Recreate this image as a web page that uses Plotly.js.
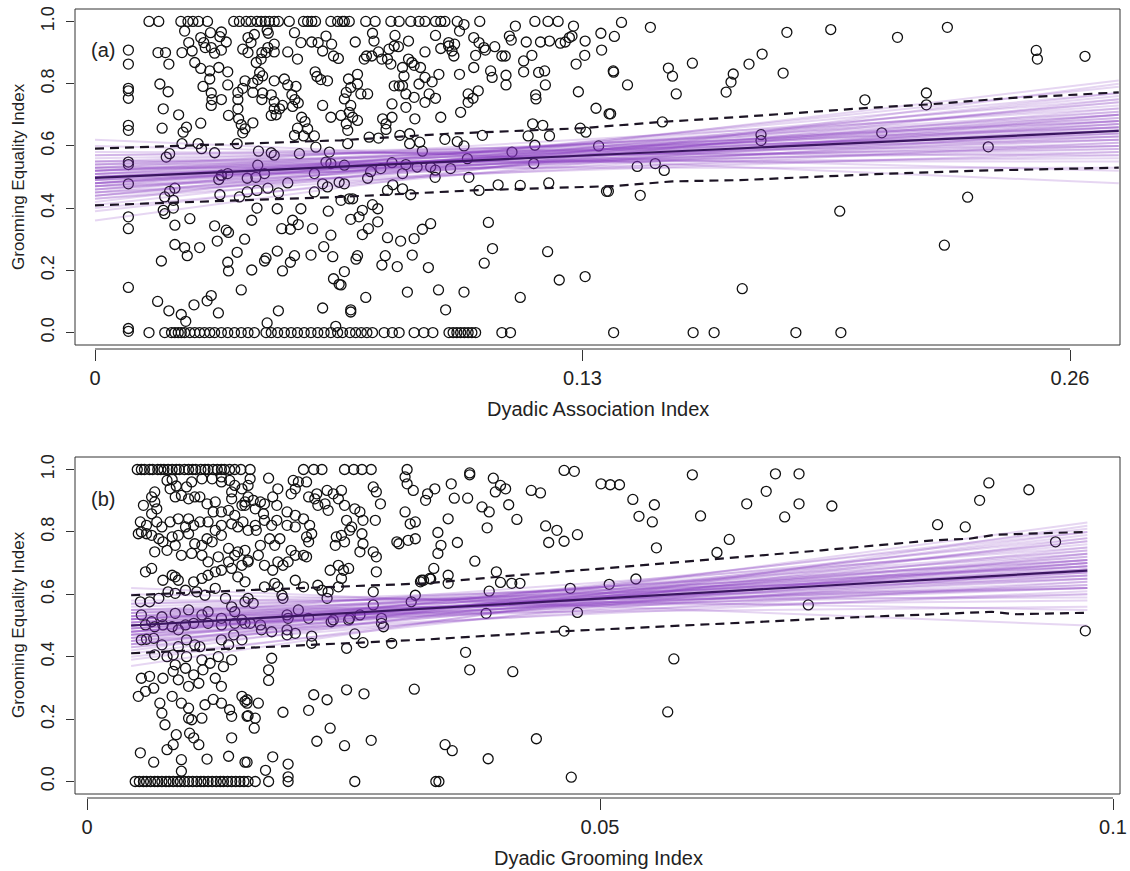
<!DOCTYPE html>
<html><head><meta charset="utf-8">
<script src="https://cdn.plot.ly/plotly-3.0.1.min.js"></script>
<style>body{margin:0;background:#fff}#chart{width:1130px;height:871px}</style>
</head><body><div id="chart"></div>
<script>
// ---------- Panel (a): Dyadic Association Index vs Grooming Equality Index ----------
const assocPoints = [
[0.0144,1],[0.0170,1],[0.0229,1],[0.0248,1],[0.0261,1],[0.0276,1],[0.0300,1],[0.0370,1],[0.0385,1],[0.0403,1],[0.0416,1],[0.0432,1],[0.0443,1],[0.0454,1],[0.0465,1],[0.0478,1],[0.0489,1],[0.0518,1],[0.0556,1],[0.0567,1],[0.0578,1],[0.0588,1],[0.0629,1],[0.0647,1],[0.0660,1],[0.0665,1],[0.0678,1],[0.0722,1],[0.0747,1],[0.0789,1],[0.0811,1],[0.0842,1],[0.0864,1],[0.0880,1],[0.0908,1],[0.0922,1],[0.0933,1],[0.0966,1],[0.1026,1],[0.1173,1],[0.1208,1],[0.1235,1],[0.0984,0.99],[0.1121,0.985],[0.1276,0.985],[0.1404,0.997],
[0.0089,0.908],[0.0089,0.863],[0.0089,0.785],[0.0089,0.777],[0.0089,0.753],[0.0089,0.666],[0.0089,0.65],[0.0089,0.548],[0.0089,0.54],[0.0089,0.478],[0.0089,0.372],[0.0089,0.334],[0.0089,0.145],[0.0089,0.013],[0.0089,0.004],
[0.0168,0.90],[0.0188,0.90],[0.0197,0.863],[0.0173,0.799],[0.0195,0.774],[0.0182,0.719],[0.0223,0.70],[0.0179,0.657],[0.0235,0.644],[0.0244,0.66],[0.0282,0.673],
[0.0239,0.969],[0.0250,0.932],[0.0259,0.905],[0.0232,0.90],[0.0282,0.948],[0.0290,0.932],[0.0294,0.916],[0.0308,0.964],[0.0337,0.966],[0.0333,0.951],[0.0350,0.934],[0.0266,0.868],[0.0282,0.849],[0.0310,0.916],[0.0319,0.898],[0.0337,0.908],[0.0306,0.841],[0.0306,0.815],[0.0330,0.852],[0.0354,0.838],[0.0288,0.791],[0.0310,0.770],[0.0312,0.749],[0.0310,0.730],[0.0337,0.749],[0.0354,0.796],[0.0356,0.698],[0.0381,0.719],[0.0383,0.687],[0.0390,0.668],[0.0394,0.642],[0.0400,0.655],[0.0421,0.674],[0.0381,0.772],[0.0381,0.749],[0.0400,0.809],[0.0394,0.785],[0.0408,0.900],[0.0394,0.911],[0.0416,0.932],[0.0408,0.948],[0.0425,0.958],[0.0430,0.868],[0.0443,0.879],[0.0445,0.900],[0.0456,0.900],[0.0461,0.916],[0.0459,0.972],[0.0462,0.962],[0.0478,0.927],[0.0478,0.902],[0.0439,0.836],[0.0434,0.813],[0.0447,0.825],[0.0421,0.802],[0.0421,0.772],[0.0447,0.770],[0.0445,0.749],[0.0470,0.764],[0.0478,0.742],[0.0478,0.719],[0.0470,0.698],[0.0483,0.700],[0.0492,0.719],[0.0500,0.730],[0.0478,0.809],[0.0505,0.815],[0.0514,0.796],[0.0536,0.791],[0.0525,0.764],[0.0533,0.749],[0.0542,0.738],[0.0527,0.727],[0.0551,0.692],[0.0560,0.678],[0.0567,0.655],[0.0540,0.657],[0.0556,0.632],[0.0585,0.632],[0.0514,0.902],[0.0540,0.879],[0.0532,0.964],[0.0549,0.932],[0.0578,0.934],[0.0595,0.932],[0.0607,0.905],[0.0616,0.953],[0.0631,0.927],[0.0636,0.889],[0.0649,0.881],[0.0620,0.809],[0.0587,0.838],[0.0592,0.823],[0.0602,0.813],[0.0607,0.730],[0.0629,0.692],[0.0656,0.698],
[0.0275,0.607],[0.0284,0.591],[0.0199,0.575],[0.0190,0.564],[0.0232,0.607],[0.0319,0.578],[0.0379,0.607],[0.0436,0.583],[0.0470,0.578],[0.0478,0.570],[0.0434,0.538],[0.0545,0.575],[0.0532,0.634],[0.0589,0.596],[0.0625,0.580],[0.0616,0.548],[0.0629,0.543],[0.0452,0.511],[0.0337,0.506],[0.0354,0.511],[0.0585,0.511],
[0.0186,0.436],[0.0199,0.454],[0.0213,0.464],[0.0209,0.425],[0.0182,0.393],[0.0186,0.382],[0.0209,0.400],[0.0213,0.345],[0.0253,0.366],[0.0213,0.283],[0.0239,0.273],[0.0246,0.247],[0.0279,0.273],[0.0177,0.230],[0.0167,0.100],[0.0197,0.070],[0.0230,0.058],[0.0242,0.036],[0.0264,0.089],[0.0299,0.102],[0.0310,0.119],[0.0329,0.063],[0.0319,0.343],[0.0326,0.294],[0.0350,0.329],[0.0356,0.322],[0.0330,0.492],[0.0337,0.505],[0.0333,0.443],[0.0354,0.226],[0.0356,0.198],[0.0379,0.258],[0.0399,0.300],[0.0390,0.137],[0.0418,0.201],[0.0418,0.361],[0.0432,0.400],[0.0385,0.436],[0.0406,0.452],[0.0432,0.457],[0.0461,0.464],[0.0406,0.496],[0.0429,0.499],[0.0452,0.230],[0.0456,0.239],[0.0486,0.398],[0.0486,0.262],[0.0498,0.334],[0.0521,0.332],[0.0527,0.361],[0.0542,0.347],[0.0500,0.198],[0.0521,0.226],[0.0532,0.247],[0.0549,0.398],[0.0489,0.070],[0.0459,0.031],[0.0489,0.449],[0.0514,0.481],[0.0580,0.334],[0.0576,0.249],[0.0585,0.452],[0.0607,0.478],[0.0622,0.390],[0.0629,0.313],[0.0610,0.276],[0.0634,0.244],[0.0636,0.173],[0.0651,0.155],[0.0607,0.079],[0.0642,0.020],[0.0656,0.425],[0.0620,0.468],
[0.0694,0.934],[0.0740,0.962],[0.0744,0.937],[0.0800,0.955],[0.0836,0.937],[0.0908,0.955],[0.0972,0.969],[0.1010,0.948],[0.1024,0.932],[0.1037,0.916],[0.1041,0.908],[0.1066,0.919],[0.1105,0.953],[0.1110,0.940],[0.1150,0.934],[0.1188,0.934],[0.1212,0.937],[0.1241,0.930],[0.1254,0.934],[0.1265,0.948],[0.1272,0.953],[0.1307,0.937],[0.1349,0.962],[0.1351,0.908],[0.1382,0.841],[0.1306,0.891],[0.1283,0.863],
[0.0943,0.921],[0.0952,0.905],[0.0957,0.889],[0.0943,0.932],[0.0959,0.927],[0.0922,0.913],[0.0880,0.902],[0.0836,0.879],[0.0809,0.919],[0.0798,0.921],[0.0784,0.911],[0.0756,0.902],[0.0738,0.889],[0.0724,0.889],[0.0718,0.879],[0.0765,0.879],[0.0780,0.879],[0.0789,0.863],[0.1085,0.889],[0.1094,0.889],[0.1143,0.873],[0.1165,0.891],[0.1015,0.891],[0.1010,0.852],[0.1055,0.841],[0.1059,0.820],[0.1096,0.827],[0.1096,0.796],[0.1143,0.838],[0.1183,0.836],[0.1199,0.841],[0.1201,0.796],[0.1289,0.774],[0.1175,0.764],[0.1176,0.751],[0.0972,0.830],[0.0917,0.830],[0.0880,0.820],[0.0899,0.806],[0.0845,0.868],[0.0851,0.859],[0.0820,0.852],[0.0824,0.825],[0.0820,0.793],[0.0798,0.793],[0.0811,0.793],[0.0868,0.852],[0.0864,0.799],[0.0829,0.767],[0.0851,0.756],[0.0891,0.767],[0.0908,0.753],[0.0792,0.735],[0.0829,0.724],[0.0880,0.740],[0.0995,0.767],[0.1008,0.753],[0.1022,0.777],[0.0995,0.740],[0.0975,0.708],[0.0922,0.692],[0.0853,0.687],[0.0792,0.692],[0.0767,0.687],[0.0776,0.671],[0.0776,0.653],
[0.0676,0.815],[0.0700,0.830],[0.0682,0.788],[0.0700,0.799],[0.0709,0.767],[0.0727,0.767],[0.0670,0.772],[0.0665,0.751],[0.0682,0.730],[0.0678,0.708],[0.0687,0.692],[0.0700,0.682],[0.0670,0.671],[0.0674,0.650],
[0.1336,0.721],[0.1371,0.703],[0.1167,0.671],[0.1194,0.666],[0.1155,0.632],[0.1173,0.602],[0.1212,0.632],[0.1294,0.657],[0.1309,0.644],[0.1343,0.600],[0.1112,0.580],[0.1170,0.543],[0.1033,0.634],[0.0984,0.600],[0.0966,0.614],[0.0933,0.621],[0.0873,0.583],[0.0866,0.612],[0.0839,0.607],[0.0839,0.639],[0.0813,0.634],[0.0756,0.625],[0.0731,0.628],[0.0674,0.607],[0.0993,0.559],[0.0948,0.527],[0.0908,0.522],[0.0895,0.532],[0.0859,0.532],[0.0829,0.540],[0.0820,0.511],[0.0792,0.546],[0.0762,0.527],[0.0735,0.517],[0.0665,0.538],
[0.0651,0.483],[0.0665,0.478],[0.0678,0.430],[0.0687,0.430],[0.0727,0.496],[0.0780,0.457],[0.0794,0.475],[0.0820,0.462],[0.0842,0.443],[0.0907,0.499],[0.0997,0.499],[0.1024,0.457],[0.1075,0.475],[0.1134,0.473],[0.1210,0.481],[0.1364,0.454],
[0.0740,0.411],[0.0754,0.398],[0.0713,0.393],[0.0704,0.372],[0.0682,0.364],[0.0754,0.356],[0.0729,0.334],[0.0713,0.315],[0.0895,0.350],[0.0873,0.332],[0.0851,0.302],[0.0815,0.294],[0.0780,0.305],[0.0774,0.247],[0.0765,0.217],[0.0806,0.212],[0.0846,0.249],[0.0889,0.209],[0.0700,0.247],[0.0696,0.236],[0.0665,0.196],[0.0656,0.153],[0.0722,0.113],[0.0682,0.073],[0.0682,0.066],[0.0833,0.130],[0.0916,0.137],[0.0984,0.130],[0.0935,0.073],[0.1049,0.354],[0.1060,0.270],[0.1038,0.223],[0.1134,0.113],[0.1207,0.260],[0.1238,0.169],[0.1307,0.180],
[0.1385,0.952],[0.1481,0.981],[0.1383,0.837],[0.1420,0.796],[0.1529,0.850],[0.1540,0.824],[0.1550,0.767],[0.1593,0.866],[0.1702,0.831],[0.1696,0.805],[0.1683,0.773],[0.1744,0.863],[0.1779,0.895],[0.1845,0.965],[0.1835,0.834],[0.1962,0.974],[0.2140,0.949],[0.2273,0.981],[0.2510,0.907],[0.2513,0.879],[0.2640,0.888],[0.1375,0.703],[0.1513,0.677],[0.2053,0.748],[0.2217,0.770],[0.2217,0.732],[0.1776,0.636],[0.1776,0.617],[0.2098,0.642],[0.2382,0.597],[0.1446,0.534],[0.1494,0.543],[0.1518,0.521],[0.1369,0.454],[0.1454,0.441],[0.1986,0.390],[0.2327,0.435],[0.2265,0.281],[0.1726,0.141],
[0.0144,0],[0.0186,0],[0.0204,0],[0.0213,0],[0.0222,0],[0.0230,0],[0.0239,0],[0.0253,0],[0.0266,0],[0.0279,0],[0.0292,0],[0.0306,0],[0.0319,0],[0.0337,0],[0.0354,0],[0.0372,0],[0.0390,0],[0.0408,0],[0.0425,0],[0.0456,0],[0.0470,0],[0.0487,0],[0.0505,0],[0.0523,0],[0.0540,0],[0.0558,0],[0.0576,0],[0.0594,0],[0.0611,0],[0.0629,0],[0.0647,0],[0.0660,0],[0.0680,0],[0.0695,0],[0.0710,0],[0.0725,0],[0.0740,0],[0.0771,0],[0.0793,0],[0.0811,0],[0.0851,0],[0.0877,0],[0.0901,0],[0.0944,0],[0.0955,0],[0.0965,0],[0.0975,0],[0.0985,0],[0.0995,0],[0.1005,0],[0.1015,0],[0.1085,0],[0.1108,0],[0.1383,0],[0.1595,0],[0.1651,0],[0.1869,0],[0.1989,0]
];
// posterior regression lines (panel a): fitted value at left end and right end
const assocLineX = [0, 0.273];
const assocLineStart = [0.50,0.48,0.52,0.46,0.54,0.49,0.51,0.44,0.53,0.47,0.50,0.55,0.45,0.52,0.48,0.43,0.57,0.50,0.46,0.53,0.41,0.51,0.49,0.56,0.47,0.52,0.44,0.54,0.50,0.48,0.58,0.45,0.51,0.42,0.55,0.49,0.53,0.47,0.50,0.46,0.60,0.39,0.52,0.48,0.54,0.45,0.51,0.57,0.43,0.50,0.40,0.62,0.36,0.55,0.47,0.53,0.49,0.44,0.52,0.48];
const assocLineEnd   = [0.65,0.70,0.60,0.74,0.56,0.68,0.63,0.76,0.58,0.71,0.66,0.55,0.79,0.62,0.69,0.72,0.60,0.64,0.67,0.66,0.77,0.59,0.73,0.62,0.63,0.70,0.68,0.64,0.61,0.75,0.57,0.66,0.67,0.81,0.59,0.62,0.72,0.58,0.69,0.70,0.52,0.75,0.65,0.64,0.68,0.61,0.71,0.63,0.65,0.57,0.70,0.48,0.80,0.66,0.77,0.53,0.60,0.74,0.68,0.67];
const assocUpperX = [0, 0.0656, 0.094, 0.13, 0.151, 0.172, 0.206, 0.222, 0.243, 0.273];
const assocUpperY = [0.591, 0.618, 0.639, 0.657, 0.677, 0.693, 0.722, 0.733, 0.753, 0.772];
const assocLowerX = [0, 0.0656, 0.1006, 0.1387, 0.154, 0.172, 0.208, 0.234, 0.273];
const assocLowerY = [0.409, 0.436, 0.457, 0.471, 0.486, 0.490, 0.509, 0.520, 0.530];
const assocMeanX = [0, 0.273];
const assocMeanY = [0.497, 0.648];
const assocTicks = [0, 0.13, 0.26];
const assocTickText = ['0', '0.13', '0.26'];

// ---------- Panel (b): Dyadic Grooming Index vs Grooming Equality Index ----------
const groomPoints = [
[0.0049,1],[0.0053,1],[0.0056,1],[0.0061,1],[0.0064,1],[0.0069,1],[0.0072,1],[0.0075,1],[0.0079,1],[0.0083,1],[0.0087,1],[0.0090,1],[0.0095,1],[0.0099,1],[0.0103,1],[0.0106,1],[0.0111,1],[0.0115,1],[0.0118,1],[0.0123,1],[0.0127,1],[0.0131,1],[0.0134,1],[0.0139,1],[0.0144,1],[0.0150,1],[0.0159,1],[0.0211,1],[0.0221,1],[0.0229,1],[0.0251,1],[0.0260,1],[0.0268,1],[0.0277,1],[0.0312,1],[0.0373,0.989],[0.0373,0.983],[0.0465,0.997],[0.0475,0.994],
[0.0047,0],[0.0051,0],[0.0055,0],[0.0058,0],[0.0062,0],[0.0066,0],[0.0069,0],[0.0073,0],[0.0077,0],[0.0080,0],[0.0084,0],[0.0088,0],[0.0091,0],[0.0095,0],[0.0099,0],[0.0103,0],[0.0107,0],[0.0111,0],[0.0114,0],[0.0118,0],[0.0122,0],[0.0126,0],[0.0130,0],[0.0133,0],[0.0137,0],[0.0141,0],[0.0145,0],[0.0149,0],[0.0153,0],[0.0157,0],[0.0164,0],[0.0177,0],[0.0196,0],[0.0261,0],[0.0340,0],[0.0343,0],[0.0472,0.014],
[0.0066,0.928],[0.0078,0.965],[0.0083,0.968],[0.0087,0.947],[0.0081,0.938],[0.0097,0.944],[0.0102,0.960],[0.0112,0.970],[0.0122,0.970],[0.0131,0.976],[0.0139,0.965],[0.0144,0.949],[0.0151,0.938],[0.0141,0.928],[0.0131,0.960],
[0.0055,0.885],[0.0063,0.912],[0.0066,0.896],[0.0068,0.874],[0.0086,0.912],[0.0092,0.917],[0.0099,0.906],[0.0105,0.912],[0.0110,0.912],[0.0117,0.890],[0.0125,0.896],[0.0123,0.864],[0.0131,0.864],[0.0138,0.869],[0.0144,0.853],[0.0151,0.885],[0.0154,0.896],[0.0141,0.906],
[0.0052,0.832],[0.0058,0.821],[0.0063,0.858],[0.0068,0.832],[0.0073,0.816],[0.0081,0.832],[0.0089,0.842],[0.0099,0.842],[0.0096,0.816],[0.0104,0.821],[0.0110,0.832],[0.0118,0.832],[0.0125,0.805],[0.0131,0.821],[0.0141,0.826],[0.0147,0.816],[0.0152,0.832],
[0.0050,0.794],[0.0053,0.800],[0.0058,0.794],[0.0063,0.789],[0.0070,0.778],[0.0074,0.768],[0.0083,0.784],[0.0089,0.789],[0.0099,0.794],[0.0105,0.762],[0.0112,0.757],[0.0117,0.778],[0.0122,0.768],[0.0131,0.789],[0.0138,0.747],[0.0147,0.736],[0.0154,0.741],
[0.0066,0.736],[0.0078,0.741],[0.0086,0.757],[0.0092,0.725],[0.0102,0.731],[0.0112,0.725],[0.0118,0.704],[0.0128,0.720],[0.0138,0.704],[0.0144,0.725],[0.0151,0.693],[0.0157,0.709],
[0.0057,0.672],[0.0063,0.683],[0.0074,0.645],[0.0083,0.661],[0.0086,0.656],[0.0089,0.645],[0.0104,0.640],[0.0112,0.651],[0.0118,0.661],[0.0125,0.672],[0.0131,0.677],[0.0141,0.683],[0.0147,0.656],[0.0154,0.640],
[0.0052,0.576],[0.0061,0.576],[0.0070,0.587],[0.0079,0.608],[0.0086,0.603],[0.0096,0.613],[0.0107,0.608],[0.0115,0.597],[0.0125,0.619],[0.0135,0.587],[0.0141,0.560],[0.0154,0.576],
[0.0053,0.534],[0.0063,0.512],[0.0073,0.528],[0.0086,0.539],[0.0099,0.550],[0.0112,0.534],[0.0118,0.544],[0.0131,0.523],[0.0144,0.544],[0.0151,0.518],
[0.0057,0.502],[0.0066,0.496],[0.0074,0.502],[0.0083,0.496],[0.0089,0.486],[0.0096,0.502],[0.0104,0.507],[0.0118,0.507],[0.0131,0.502],[0.0144,0.507],[0.0154,0.507],
[0.0053,0.454],[0.0058,0.456],[0.0065,0.459],[0.0073,0.438],[0.0089,0.432],[0.0097,0.454],[0.0105,0.438],[0.0110,0.432],[0.0131,0.454],[0.0138,0.438],[0.0143,0.470],[0.0151,0.454],
[0.0066,0.406],[0.0078,0.400],[0.0084,0.406],[0.0086,0.374],[0.0097,0.400],[0.0112,0.390],[0.0120,0.379],[0.0128,0.400],[0.0133,0.368],[0.0141,0.390],
[0.0053,0.331],[0.0061,0.337],[0.0074,0.331],[0.0084,0.353],[0.0089,0.326],[0.0096,0.363],[0.0099,0.305],[0.0104,0.342],[0.0109,0.315],[0.0113,0.358],[0.0125,0.331],[0.0131,0.305],
[0.0050,0.273],[0.0057,0.289],[0.0065,0.299],[0.0071,0.251],[0.0083,0.273],[0.0073,0.219],[0.0076,0.182],[0.0092,0.251],[0.0099,0.235],[0.0099,0.203],[0.0102,0.198],[0.0112,0.203],[0.0115,0.246],[0.0123,0.263],[0.0131,0.251],[0.0139,0.230],[0.0141,0.209],[0.0151,0.273],[0.0154,0.257],[0.0156,0.209],
[0.0052,0.092],[0.0065,0.062],[0.0078,0.102],[0.0084,0.118],[0.0087,0.150],[0.0100,0.155],[0.0104,0.140],[0.0109,0.118],[0.0092,0.070],[0.0092,0.033],[0.0117,0.072],[0.0138,0.081],[0.0141,0.140],[0.0154,0.062],
[0.0159,0.970],[0.0157,0.949],[0.0177,0.972],[0.0157,0.912],[0.0162,0.901],[0.0169,0.896],[0.0173,0.890],[0.0154,0.885],[0.0164,0.874],[0.0172,0.858],[0.0181,0.912],[0.0186,0.938],[0.0185,0.885],[0.0199,0.922],[0.0201,0.965],[0.0203,0.938],[0.0206,0.960],[0.0214,0.960],[0.0216,0.912],[0.0222,0.906],[0.0224,0.922],[0.0225,0.885],[0.0232,0.890],[0.0234,0.933],[0.0240,0.922],[0.0245,0.906],[0.0248,0.933],[0.0251,0.885],[0.0261,0.874],[0.0266,0.864],[0.0279,0.944],[0.0282,0.928],[0.0286,0.890],[0.0310,0.976],[0.0312,0.954],[0.0318,0.933],[0.0310,0.864],[0.0315,0.826],[0.0320,0.832],
[0.0164,0.821],[0.0157,0.805],[0.0165,0.805],[0.0173,0.837],[0.0180,0.821],[0.0185,0.837],[0.0195,0.864],[0.0203,0.853],[0.0195,0.821],[0.0203,0.816],[0.0211,0.842],[0.0217,0.821],[0.0219,0.794],[0.0214,0.784],[0.0216,0.768],[0.0235,0.869],[0.0253,0.837],[0.0258,0.816],[0.0269,0.837],[0.0281,0.837],[0.0256,0.805],[0.0248,0.789],[0.0243,0.784],[0.0242,0.757],[0.0251,0.768],[0.0268,0.794],[0.0269,0.762],[0.0266,0.736],[0.0279,0.736],[0.0282,0.720],
[0.0169,0.757],[0.0167,0.725],[0.0157,0.704],[0.0178,0.778],[0.0183,0.757],[0.0188,0.778],[0.0173,0.693],[0.0181,0.677],[0.0186,0.704],[0.0191,0.693],[0.0196,0.704],[0.0199,0.741],[0.0203,0.725],[0.0211,0.725],[0.0214,0.720],[0.0237,0.677],[0.0245,0.693],[0.0250,0.677],[0.0248,0.651],[0.0255,0.683],[0.0282,0.672],[0.0302,0.768],[0.0304,0.762],[0.0313,0.773],[0.0320,0.778],
[0.0157,0.587],[0.0162,0.571],[0.0173,0.624],[0.0183,0.635],[0.0186,0.624],[0.0190,0.597],[0.0191,0.587],[0.0203,0.645],[0.0211,0.624],[0.0225,0.629],[0.0229,0.613],[0.0235,0.608],[0.0234,0.587],[0.0245,0.624],[0.0279,0.608],[0.0279,0.566],[0.0320,0.597],[0.0316,0.576],[0.0326,0.645],
[0.0195,0.534],[0.0206,0.550],[0.0196,0.523],[0.0216,0.523],[0.0240,0.518],[0.0256,0.523],[0.0266,0.534],[0.0287,0.523],
[0.0159,0.507],[0.0169,0.502],[0.0170,0.486],[0.0180,0.480],[0.0195,0.486],[0.0195,0.470],[0.0203,0.475],[0.0219,0.466],[0.0219,0.443],[0.0238,0.512],[0.0255,0.518],[0.0261,0.473],[0.0269,0.445],[0.0253,0.427],[0.0287,0.507],[0.0289,0.496],[0.0297,0.443],
[0.0180,0.395],[0.0177,0.358],[0.0177,0.324],[0.0156,0.262],[0.0156,0.251],[0.0167,0.251],[0.0157,0.211],[0.0164,0.203],[0.0163,0.171],[0.0191,0.222],[0.0216,0.228],[0.0221,0.278],[0.0234,0.262],[0.0253,0.294],[0.0270,0.281],[0.0319,0.296],[0.0237,0.171],[0.0224,0.129],[0.0251,0.115],[0.0277,0.132],[0.0156,0.062],[0.0181,0.079],[0.0174,0.036],[0.0196,0.056],[0.0196,0.015],
[0.0332,0.922],[0.0330,0.901],[0.0339,0.938],[0.0355,0.954],[0.0358,0.908],[0.0371,0.908],[0.0396,0.972],[0.0403,0.949],[0.0408,0.938],[0.0398,0.928],[0.0411,0.887],[0.0385,0.880],[0.0392,0.864],[0.0352,0.842],[0.0419,0.840],[0.0390,0.813],[0.0433,0.933],[0.0442,0.925],[0.0501,0.954],[0.0510,0.951],[0.0519,0.951],[0.0532,0.904],[0.0553,0.887],[0.0538,0.850],[0.0551,0.832],[0.0447,0.819],[0.0458,0.805],[0.0450,0.766],[0.0465,0.770],[0.0478,0.791],[0.0342,0.798],[0.0345,0.757],[0.0342,0.731],[0.0361,0.766],[0.0338,0.683],[0.0335,0.649],[0.0352,0.661],[0.0352,0.635],[0.0378,0.706],[0.0399,0.672],[0.0403,0.638],[0.0414,0.635],[0.0422,0.635],[0.0392,0.610],[0.0389,0.539],[0.0471,0.619],[0.0478,0.542],[0.0465,0.482],[0.0509,0.632],[0.0535,0.649],[0.0555,0.749],[0.0590,0.983],[0.0598,0.851],[0.0614,0.734],[0.0626,0.776],[0.0643,0.890],[0.0662,0.930],[0.0671,0.986],[0.0680,0.848],[0.0694,0.986],[0.0694,0.890],[0.0726,0.883],[0.0703,0.566],[0.0829,0.823],[0.0856,0.816],[0.0870,0.901],[0.0879,0.957],[0.0918,0.935],[0.0944,0.768],[0.0973,0.483],[0.0369,0.414],[0.0373,0.358],[0.0415,0.352],[0.0572,0.393],[0.0566,0.223],[0.0349,0.118],[0.0356,0.099],[0.0391,0.073],[0.0438,0.137],[0.0325,0.640],[0.0328,0.645],[0.0334,0.651]
];
const groomLineX = [0.0043, 0.0975];
const groomLineStart = [0.50,0.48,0.52,0.46,0.54,0.49,0.51,0.44,0.53,0.47,0.50,0.55,0.45,0.52,0.48,0.43,0.57,0.50,0.46,0.53,0.41,0.51,0.49,0.56,0.47,0.52,0.44,0.54,0.50,0.48,0.58,0.45,0.51,0.42,0.55,0.49,0.53,0.47,0.50,0.46,0.60,0.39,0.52,0.48,0.54,0.45,0.51,0.57,0.43,0.50,0.40,0.62,0.37,0.55,0.47,0.53,0.49,0.44,0.52,0.48];
const groomLineEnd   = [0.68,0.72,0.63,0.77,0.60,0.70,0.66,0.79,0.62,0.74,0.69,0.58,0.81,0.65,0.71,0.75,0.62,0.67,0.70,0.69,0.80,0.62,0.76,0.65,0.66,0.73,0.71,0.67,0.64,0.78,0.59,0.69,0.70,0.83,0.62,0.65,0.75,0.61,0.72,0.73,0.55,0.78,0.68,0.67,0.71,0.64,0.74,0.66,0.68,0.60,0.73,0.50,0.82,0.69,0.80,0.56,0.63,0.77,0.71,0.70];
const groomUpperX = [0.0043, 0.0154, 0.033, 0.0411, 0.0534, 0.0612, 0.0716, 0.0825, 0.086, 0.0886, 0.0975];
const groomUpperY = [0.597, 0.613, 0.635, 0.659, 0.691, 0.712, 0.741, 0.773, 0.778, 0.791, 0.800];
const groomLowerX = [0.0043, 0.0154, 0.033, 0.0455, 0.0534, 0.0629, 0.0759, 0.0825, 0.0882, 0.0904, 0.0975];
const groomLowerY = [0.411, 0.428, 0.455, 0.480, 0.493, 0.507, 0.528, 0.536, 0.544, 0.536, 0.541];
const groomMeanX = [0.0043, 0.0975];
const groomMeanY = [0.500, 0.676];
const groomTicks = [0, 0.05, 0.1];
const groomTickText = ['0', '0.05', '0.1'];

const yTicks = [0, 0.2, 0.4, 0.6, 0.8, 1.0];
const yTickText = ['0.0', '0.2', '0.4', '0.6', '0.8', '1.0'];

// ---------- build ----------
const FONT = 'Liberation Sans, Arial, Helvetica, sans-serif';
const LINE_COLOR = 'rgba(128,48,188,0.2)';
const traces = [];
function addPanel(points, lx, ls, le, ux, uy, lox, loy, mx, my, xa, ya) {
  traces.push({type:'scatter', mode:'markers', x: points.map(p=>p[0]), y: points.map(p=>p[1]),
    xaxis:xa, yaxis:ya, marker:{symbol:'circle-open', size:10, color:'#111', line:{width:1.3, color:'#111'}},
    hoverinfo:'skip', showlegend:false});
  for (let i=0;i<ls.length;i++) {
    traces.push({type:'scatter', mode:'lines', x: lx, y:[ls[i], le[i]], xaxis:xa, yaxis:ya,
      line:{color:LINE_COLOR, width:2}, hoverinfo:'skip', showlegend:false});
  }
  traces.push({type:'scatter', mode:'lines', x:ux, y:uy, xaxis:xa, yaxis:ya,
    line:{color:'#1c1424', width:2.2, dash:'9px,6px'}, hoverinfo:'skip', showlegend:false});
  traces.push({type:'scatter', mode:'lines', x:lox, y:loy, xaxis:xa, yaxis:ya,
    line:{color:'#1c1424', width:2.2, dash:'9px,6px'}, hoverinfo:'skip', showlegend:false});
  traces.push({type:'scatter', mode:'lines', x:mx, y:my, xaxis:xa, yaxis:ya,
    line:{color:'#3a1660', width:2.2}, hoverinfo:'skip', showlegend:false});
}
addPanel(assocPoints, assocLineX, assocLineStart, assocLineEnd, assocUpperX, assocUpperY, assocLowerX, assocLowerY, assocMeanX, assocMeanY, 'x', 'y');
addPanel(groomPoints, groomLineX, groomLineStart, groomLineEnd, groomUpperX, groomUpperY, groomLowerX, groomLowerY, groomMeanX, groomMeanY, 'x2', 'y2');

const W = 1130, H = 871;
const xDom = [75/W, 1120/W];
const topDom = [(H-345)/H, (H-9)/H];
const botDom = [(H-794)/H, (H-457)/H];
const tickFont = {family:FONT, size:20, color:'#222'};
const yTickFont = {family:FONT, size:18, color:'#222'};
const labFont = {family:FONT, size:20, color:'#222'};
const yLabFont = {family:FONT, size:17, color:'#222'};

function xAxis(range, pos, tv, tt) {
  return {domain:xDom, range:range, anchor:'free', position:pos, tickvals:tv, ticktext:tt,
    ticks:'outside', ticklen:11, tickwidth:1, tickcolor:'#333', showgrid:false, zeroline:false,
    showline:false, tickfont:tickFont, fixedrange:true};
}
function yAxis(dom, anchor) {
  return {domain:dom, range:[-0.04, 1.04], anchor:anchor, tickvals:yTicks, ticktext:yTickText,
    tickangle:-90, ticks:'outside', ticklen:8, tickwidth:1, tickcolor:'#333', showgrid:false,
    zeroline:false, showline:false, tickfont:yTickFont, ticklabelstandoff:5, fixedrange:true};
}
const topAxisPos = (H-349)/H, botAxisPos = (H-798)/H;
function ann(text, px, py, angle, font) {
  return {text:text, xref:'paper', yref:'paper', x:px/W, y:(H-py)/H, xanchor:'center', yanchor:'middle',
    textangle:angle||0, showarrow:false, font:font||labFont};
}
const layout = {
  width:W, height:H, margin:{l:0, r:0, t:0, b:0}, paper_bgcolor:'#fff', plot_bgcolor:'#fff',
  showlegend:false, font:{family:FONT, color:'#222'},
  xaxis: xAxis([-20/3750, 1025/3750], topAxisPos, assocTicks, assocTickText),
  yaxis: yAxis(topDom, 'x'),
  xaxis2: xAxis([-12/10260, 1033/10260], botAxisPos, groomTicks, groomTickText),
  yaxis2: yAxis(botDom, 'x2'),
  shapes: [
    {type:'rect', xref:'x domain', yref:'y domain', x0:0, x1:1, y0:0, y1:1, line:{color:'#333', width:1}},
    {type:'rect', xref:'x2 domain', yref:'y2 domain', x0:0, x1:1, y0:0, y1:1, line:{color:'#333', width:1}},
    {type:'line', xref:'x', yref:'paper', x0:assocTicks[0], x1:assocTicks[2], y0:topAxisPos, y1:topAxisPos, line:{color:'#333', width:1}},
    {type:'line', xref:'x2', yref:'paper', x0:groomTicks[0], x1:groomTicks[2], y0:botAxisPos, y1:botAxisPos, line:{color:'#333', width:1}}
  ],
  annotations: [
    ann('(a)', 103, 50), ann('(b)', 103, 499),
    ann('Dyadic Association Index', 598, 409),
    ann('Dyadic Grooming Index', 598, 858),
    ann('Grooming Equality Index', 18, 177, -90, yLabFont),
    ann('Grooming Equality Index', 18, 625, -90, yLabFont)
  ]
};
Plotly.newPlot('chart', traces, layout, {displayModeBar:false, staticPlot:true});
</script>
</body></html>
